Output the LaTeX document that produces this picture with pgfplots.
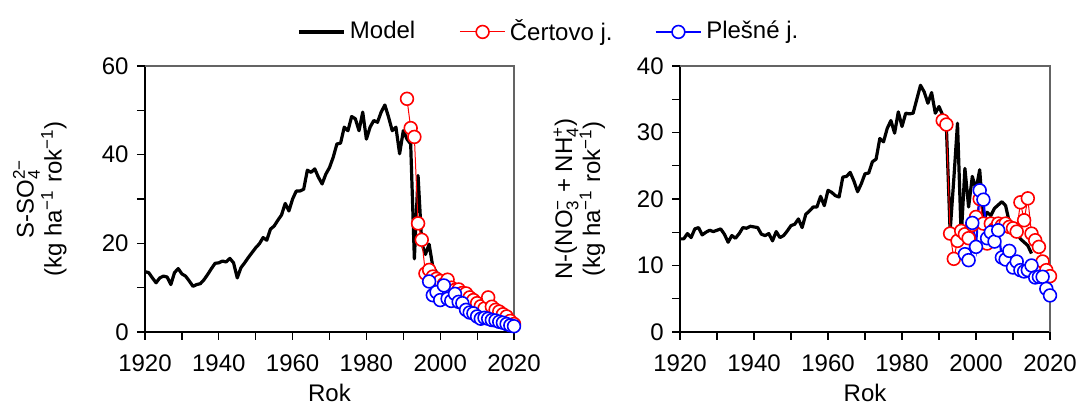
\documentclass[border=0pt]{standalone}
\usepackage{fontspec}
\setmainfont{Liberation Sans}
\usepackage{pgfplots}
\usepackage{pgfplotstable}
\pgfplotsset{compat=1.18}
\newcommand{\subsup}[2]{\ensuremath{{}_{\mbox{\fontsize{8.5}{8.5}\selectfont #1}}^{\mbox{\fontsize{8.5}{8.5}\selectfont #2}}}}
\newcommand{\sus}[1]{\ensuremath{^{\mbox{\fontsize{8.5}{8.5}\selectfont #1}}}}

\pgfplotstableread{
year val
1920 13.6
1921 13.4
1922 12.2
1923 11.1
1924 12.2
1925 12.6
1926 12.4
1927 10.7
1928 13.4
1929 14.3
1930 13.1
1931 12.6
1932 11.5
1933 10.3
1934 10.7
1935 10.9
1936 11.8
1937 13.0
1938 14.3
1939 15.5
1940 15.6
1941 16.0
1942 15.8
1943 16.6
1944 15.6
1945 12.2
1946 14.5
1947 15.6
1948 16.8
1949 17.9
1950 19.0
1951 19.9
1952 21.3
1953 20.7
1954 23.2
1955 23.9
1956 25.2
1957 26.4
1958 29.0
1959 27.3
1960 30.0
1961 31.8
1962 31.8
1963 32.2
1964 36.5
1965 36.0
1966 36.8
1967 34.9
1968 33.4
1969 35.6
1970 37.1
1971 39.4
1972 42.4
1973 42.6
1974 46.2
1975 45.4
1976 48.6
1977 48.1
1978 45.4
1979 49.6
1980 43.5
1981 46.2
1982 47.7
1983 47.3
1984 49.6
1985 51.2
1986 48.5
1987 45.4
1988 46.2
1989 40.2
1990 45.4
1991 43.5
1992 42.4
1993 16.5
1994 35.3
1995 20.0
1996 17.5
1997 19.8
1998 14.7
1999 13.5
2000 12.5
2001 12.0
2002 11.0
2003 10.5
2004 10.0
2005 9.5
2006 9.0
2007 8.5
2008 8.0
2009 7.5
2010 7.0
2011 6.5
2012 6.0
2013 5.5
2014 5.2
2015 5.0
}\modelS

\pgfplotstableread{
year val
1991 52.6
1992 46.0
1993 44.0
1994 24.5
1995 20.8
1996 13.2
1997 14.0
1998 12.5
1999 12.0
2000 11.5
2001 10.8
2002 11.8
2003 10.0
2004 9.5
2005 9.6
2006 8.8
2007 8.7
2008 7.8
2009 7.2
2010 6.5
2011 5.8
2012 5.3
2013 7.8
2014 5.7
2015 5.0
2016 4.6
2017 4.0
2018 3.5
2019 2.5
2020 1.8
}\certS

\pgfplotstableread{
year val
1997 11.4
1998 8.3
1999 9.0
2000 7.2
2001 10.5
2002 7.5
2003 7.0
2004 8.6
2005 6.8
2006 6.5
2007 5.0
2008 4.4
2009 4.2
2010 3.5
2011 3.0
2012 3.2
2013 3.0
2014 2.7
2015 2.6
2016 2.3
2017 2.1
2018 1.8
2019 1.5
2020 1.3
}\plesS

\pgfplotstableread{
year val
1920 14.0
1921 14.0
1922 14.8
1923 14.2
1924 15.5
1925 15.7
1926 14.6
1927 15.0
1928 15.3
1929 15.1
1930 15.3
1931 15.5
1932 14.7
1933 13.5
1934 14.5
1935 14.1
1936 14.8
1937 15.7
1938 15.6
1939 15.9
1940 15.8
1941 15.7
1942 14.7
1943 14.5
1944 14.8
1945 13.7
1946 15.1
1947 14.2
1948 14.5
1949 15.2
1950 16.0
1951 16.2
1952 17.0
1953 15.7
1954 17.7
1955 18.2
1956 18.8
1957 18.8
1958 20.4
1959 19.0
1960 21.3
1961 21.0
1962 20.5
1963 20.3
1964 23.3
1965 23.4
1966 24.0
1967 22.7
1968 21.1
1969 22.3
1970 23.8
1971 23.9
1972 25.6
1973 26.0
1974 29.1
1975 28.6
1976 30.6
1977 31.8
1978 29.9
1979 33.1
1980 30.9
1981 32.9
1982 32.8
1983 32.9
1984 35.0
1985 37.1
1986 36.1
1987 34.4
1988 36.0
1989 32.9
1990 33.9
1991 32.6
1992 30.8
1993 15.1
1994 23.0
1995 31.4
1996 14.3
1997 24.6
1998 18.8
1999 23.4
2000 21.4
2001 24.4
2002 16.8
2003 18.0
2004 17.5
2005 18.6
2006 19.1
2007 19.6
2008 19.0
2009 16.5
2010 15.5
2011 15.0
2012 14.0
2013 13.5
2014 13.0
2015 11.8
}\modelN

\pgfplotstableread{
year val
1991 31.8
1992 31.2
1993 14.8
1994 11.0
1995 13.7
1996 15.2
1997 14.7
1998 14.1
1999 16.1
2000 17.3
2001 20.0
2002 16.3
2003 13.3
2004 16.3
2005 15.5
2006 16.3
2007 16.0
2008 16.3
2009 15.8
2010 15.6
2011 15.1
2012 19.5
2013 16.8
2014 20.1
2015 14.8
2016 13.8
2017 12.8
2018 10.6
2019 9.3
2020 8.4
}\certN

\pgfplotstableread{
year val
1997 11.7
1998 10.8
1999 16.4
2000 12.8
2001 21.3
2002 19.9
2003 14.1
2004 15.0
2005 13.6
2006 15.3
2007 11.2
2008 10.9
2009 12.2
2010 9.7
2011 10.6
2012 9.3
2013 9.1
2014 9.3
2015 10.0
2016 8.2
2017 8.3
2018 8.3
2019 6.5
2020 5.5
}\plesN

\definecolor{frame}{RGB}{100,100,100}

\pgfplotsset{
  common/.style={
    scale only axis,
    width=184.5pt, height=133pt,
    xmin=1920, xmax=2020,
    ymin=0,
    axis lines=left,
    axis line style={-, black, line width=0.6pt},
    clip=false,
    tick align=outside,
    major tick length=4pt,
    minor tick length=4pt,
    tick style={black, line width=0.6pt},
    xtick={1920,1930,...,2020},
    xticklabels={1920,,1940,,1960,,1980,,2000,,2020},
    xticklabel style={yshift=-3pt},
    xlabel={Rok},
    every tick label/.append style={font=\fontsize{12}{14}\selectfont},
    label style={font=\fontsize{12}{14}\selectfont},
    xlabel style={yshift=2pt},
    ylabel style={anchor=center, align=center},
  },
  model/.style={black, line width=1.6pt, line join=round, no markers},
  cert/.style={red, line width=0.5pt, mark=*, mark size=3.2pt, mark options={fill=white, draw=red, line width=0.8pt}},
  ples/.style={blue, line width=1.1pt, mark=*, mark size=3.2pt, mark options={fill=white, draw=blue, line width=0.8pt}},
}

\begin{document}
\fontsize{12}{14.4}\selectfont
\begin{tikzpicture}
\path[use as bounding box] (0,0) rectangle (540pt,202.5pt);

\begin{axis}[common,
  at={(72.5pt,36.5pt)}, anchor=south west,
  ymax=60,
  ytick={0,10,...,60},
  yticklabels={0,,20,,40,,60},
  ylabel={S-SO\subsup{4}{2−}\\(kg ha\sus{−1} rok\sus{−1})},
  ylabel style={at={(axis description cs:-0.285,0.5)}},
  legend columns=3,
  legend cell align=left,
  legend style={at={(axis description cs:1.097,1.128)}, anchor=center, draw=none, fill=none,
    font=\fontsize{12}{14}\selectfont,
    /tikz/column 2/.style={column sep=20pt},
    /tikz/column 4/.style={column sep=19pt}},
  legend image code/.code={\draw[mark repeat=2,mark phase=2] plot coordinates {(0cm,0cm) (0.4cm,0cm) (0.8cm,0cm)};},
]
\draw[frame, line width=0.9pt] (rel axis cs:0,1) -- (rel axis cs:1,1) -- (rel axis cs:1,0);
\addplot[model] table[x=year,y=val] {\modelS};
\addlegendentry{Model}
\addplot[cert] table[x=year,y=val] {\certS};
\addlegendentry{Čertovo j.}
\addplot[ples] table[x=year,y=val] {\plesS};
\addlegendentry{Plešné j.}
\end{axis}

\begin{axis}[common,
  at={(340pt,36.5pt)}, anchor=south west,
  width=185pt,
  ymax=40,
  ytick={0,5,...,40},
  yticklabels={0,,10,,20,,30,,40},
  ylabel={N-(NO\subsup{3}{−} + NH\subsup{4}{+})\\(kg ha\sus{−1} rok\sus{−1})},
  ylabel style={at={(axis description cs:-0.272,0.5)}},
]
\draw[frame, line width=0.9pt] (rel axis cs:0,1) -- (rel axis cs:1,1) -- (rel axis cs:1,0);
\addplot[model] table[x=year,y=val] {\modelN};
\addplot[cert] table[x=year,y=val] {\certN};
\addplot[ples] table[x=year,y=val] {\plesN};
\end{axis}
\end{tikzpicture}
\end{document}
